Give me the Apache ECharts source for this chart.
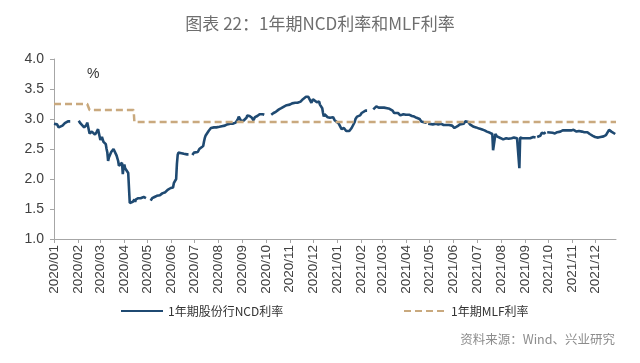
<!DOCTYPE html>
<html><head><meta charset="utf-8">
<script src="https://cdn.jsdelivr.net/npm/echarts@6/dist/echarts.min.js"></script>
<style>html,body{margin:0;padding:0;background:#fff}#c{width:640px;height:363px}</style>
</head><body><div id="c"></div>
<script>
const title = '图表 22：1年期NCD利率和MLF利率';
const source = '资料来源：Wind、兴业研究';
const seriesNames = ['1年期股份行NCD利率', '1年期MLF利率'];
const yTicks = [1.0, 1.5, 2.0, 2.5, 3.0, 3.5, 4.0];
const axisStart = '2020-01-02';
const axisEnd = '2021-12-29';

// NCD: dates and values (null = break in the line, holidays)
const ncdDates = [
'2020-01-02','2020-01-03','2020-01-06','2020-01-07','2020-01-08','2020-01-09','2020-01-10','2020-01-13','2020-01-14','2020-01-15','2020-01-16','2020-01-17','2020-01-20','2020-01-21','2020-01-22','2020-01-23','2020-01-24',
'2020-02-03','2020-02-04','2020-02-05','2020-02-06','2020-02-07','2020-02-10','2020-02-11','2020-02-12','2020-02-13','2020-02-14','2020-02-17','2020-02-18','2020-02-19','2020-02-20','2020-02-21','2020-02-24','2020-02-25','2020-02-26','2020-02-27','2020-02-28',
'2020-03-02','2020-03-03','2020-03-04','2020-03-05','2020-03-06','2020-03-09','2020-03-10','2020-03-11','2020-03-12','2020-03-13','2020-03-16','2020-03-17','2020-03-18','2020-03-19','2020-03-20','2020-03-23','2020-03-24','2020-03-25','2020-03-26','2020-03-27','2020-03-30','2020-03-31',
'2020-04-01','2020-04-02','2020-04-03','2020-04-07','2020-04-08','2020-04-09','2020-04-10','2020-04-13','2020-04-14','2020-04-15','2020-04-16','2020-04-17','2020-04-20','2020-04-21','2020-04-22','2020-04-23','2020-04-24','2020-04-27','2020-04-28','2020-04-29','2020-04-30','2020-05-01',
'2020-05-06','2020-05-07','2020-05-08','2020-05-11','2020-05-12','2020-05-13','2020-05-14','2020-05-15','2020-05-18','2020-05-19','2020-05-20','2020-05-21','2020-05-22','2020-05-25','2020-05-26','2020-05-27','2020-05-28','2020-05-29',
'2020-06-01','2020-06-02','2020-06-03','2020-06-04','2020-06-05','2020-06-08','2020-06-09','2020-06-10','2020-06-11','2020-06-12','2020-06-15','2020-06-16','2020-06-17','2020-06-18','2020-06-19','2020-06-22','2020-06-23','2020-06-24','2020-06-25',
'2020-06-29','2020-06-30','2020-07-01','2020-07-02','2020-07-03','2020-07-06','2020-07-07','2020-07-08','2020-07-09','2020-07-10','2020-07-13','2020-07-14','2020-07-15','2020-07-16','2020-07-17','2020-07-20','2020-07-21','2020-07-22','2020-07-23','2020-07-24','2020-07-27','2020-07-28','2020-07-29','2020-07-30','2020-07-31',
'2020-08-03','2020-08-04','2020-08-05','2020-08-06','2020-08-07','2020-08-10','2020-08-11','2020-08-12','2020-08-13','2020-08-14','2020-08-17','2020-08-18','2020-08-19','2020-08-20','2020-08-21','2020-08-24','2020-08-25','2020-08-26','2020-08-27','2020-08-28','2020-08-31',
'2020-09-01','2020-09-02','2020-09-03','2020-09-04','2020-09-07','2020-09-08','2020-09-09','2020-09-10','2020-09-11','2020-09-14','2020-09-15','2020-09-16','2020-09-17','2020-09-18','2020-09-21','2020-09-22','2020-09-23','2020-09-24','2020-09-25','2020-09-28','2020-09-29','2020-09-30','2020-10-01',
'2020-10-09','2020-10-12','2020-10-13','2020-10-14','2020-10-15','2020-10-16','2020-10-19','2020-10-20','2020-10-21','2020-10-22','2020-10-23','2020-10-26','2020-10-27','2020-10-28','2020-10-29','2020-10-30',
'2020-11-02','2020-11-03','2020-11-04','2020-11-05','2020-11-06','2020-11-09','2020-11-10','2020-11-11','2020-11-12','2020-11-13','2020-11-16','2020-11-17','2020-11-18','2020-11-19','2020-11-20','2020-11-23','2020-11-24','2020-11-25','2020-11-26','2020-11-27','2020-11-30',
'2020-12-01','2020-12-02','2020-12-03','2020-12-04','2020-12-07','2020-12-08','2020-12-09','2020-12-10','2020-12-11','2020-12-14','2020-12-15','2020-12-16','2020-12-17','2020-12-18','2020-12-21','2020-12-22','2020-12-23','2020-12-24','2020-12-25','2020-12-28','2020-12-29','2020-12-30','2020-12-31',
'2021-01-04','2021-01-05','2021-01-06','2021-01-07','2021-01-08','2021-01-11','2021-01-12','2021-01-13','2021-01-14','2021-01-15','2021-01-18','2021-01-19','2021-01-20','2021-01-21','2021-01-22','2021-01-25','2021-01-26','2021-01-27','2021-01-28','2021-01-29',
'2021-02-01','2021-02-02','2021-02-03','2021-02-04','2021-02-05','2021-02-08','2021-02-09','2021-02-10','2021-02-11',
'2021-02-18','2021-02-19','2021-02-22','2021-02-23','2021-02-24','2021-02-25','2021-02-26','2021-03-01','2021-03-02','2021-03-03','2021-03-04','2021-03-05','2021-03-08','2021-03-09','2021-03-10','2021-03-11','2021-03-12','2021-03-15','2021-03-16','2021-03-17','2021-03-18','2021-03-19','2021-03-22','2021-03-23','2021-03-24','2021-03-25','2021-03-26','2021-03-29','2021-03-30','2021-03-31',
'2021-04-01','2021-04-02','2021-04-06','2021-04-07','2021-04-08','2021-04-09','2021-04-12','2021-04-13','2021-04-14','2021-04-15','2021-04-16','2021-04-19','2021-04-20','2021-04-21','2021-04-22','2021-04-23','2021-04-26','2021-04-27','2021-04-28','2021-04-29','2021-04-30',
'2021-05-06','2021-05-07','2021-05-10','2021-05-11','2021-05-12','2021-05-13','2021-05-14','2021-05-17','2021-05-18','2021-05-19','2021-05-20','2021-05-21','2021-05-24','2021-05-25','2021-05-26','2021-05-27','2021-05-28','2021-05-31',
'2021-06-01','2021-06-02','2021-06-03','2021-06-04','2021-06-07','2021-06-08','2021-06-09','2021-06-10','2021-06-11','2021-06-15','2021-06-16','2021-06-17','2021-06-18','2021-06-21','2021-06-22','2021-06-23','2021-06-24','2021-06-25','2021-06-28','2021-06-29','2021-06-30',
'2021-07-01','2021-07-02','2021-07-05','2021-07-06','2021-07-07','2021-07-08','2021-07-09','2021-07-12','2021-07-13','2021-07-14','2021-07-15','2021-07-16','2021-07-19','2021-07-20','2021-07-21','2021-07-22','2021-07-23','2021-07-26','2021-07-27','2021-07-28','2021-07-29','2021-07-30',
'2021-08-02','2021-08-03','2021-08-04','2021-08-05','2021-08-06','2021-08-09','2021-08-10','2021-08-11','2021-08-12','2021-08-13','2021-08-16','2021-08-17','2021-08-18','2021-08-19','2021-08-20','2021-08-23','2021-08-24','2021-08-25','2021-08-26','2021-08-27','2021-08-30','2021-08-31',
'2021-09-01','2021-09-02','2021-09-03','2021-09-06','2021-09-07','2021-09-08','2021-09-09','2021-09-10','2021-09-13','2021-09-14','2021-09-15','2021-09-16','2021-09-17','2021-09-18',
'2021-09-22','2021-09-23','2021-09-24','2021-09-27','2021-09-28','2021-09-29','2021-09-30','2021-10-01',
'2021-10-08','2021-10-11','2021-10-12','2021-10-13','2021-10-14','2021-10-15','2021-10-18','2021-10-19','2021-10-20','2021-10-21','2021-10-22','2021-10-25','2021-10-26','2021-10-27','2021-10-28','2021-10-29',
'2021-11-01','2021-11-02','2021-11-03','2021-11-04','2021-11-05','2021-11-08','2021-11-09','2021-11-10','2021-11-11','2021-11-12','2021-11-15','2021-11-16','2021-11-17','2021-11-18','2021-11-19','2021-11-22','2021-11-23','2021-11-24','2021-11-25','2021-11-26','2021-11-29','2021-11-30',
'2021-12-01','2021-12-02','2021-12-03','2021-12-06','2021-12-07','2021-12-08','2021-12-09','2021-12-10','2021-12-13','2021-12-14','2021-12-15','2021-12-16','2021-12-17','2021-12-20','2021-12-21','2021-12-22','2021-12-23','2021-12-24','2021-12-28','2021-12-29'
];
const ncdValues = [
2.92,2.90,2.91,2.88,2.86,2.87,2.88,2.89,2.90,2.90,2.93,2.95,2.96,2.97,2.98,2.96,null,
2.97,2.95,2.93,2.92,2.90,2.86,2.84,2.83,2.90,2.94,2.76,2.74,2.78,2.79,2.76,2.74,2.75,2.78,2.81,2.83,
2.65,2.63,2.70,2.68,2.62,2.58,2.50,2.44,2.30,2.36,2.45,2.44,2.47,2.50,2.49,2.39,2.41,2.30,2.22,2.25,2.27,2.08,
2.20,2.24,2.18,2.10,2.07,1.60,1.58,1.62,1.64,1.66,1.62,1.66,1.68,1.70,1.66,1.68,1.71,1.70,1.67,1.69,1.68,null,
1.64,1.66,1.68,1.70,1.69,1.71,1.72,1.71,1.73,1.74,1.73,1.76,1.74,1.78,1.80,1.79,1.82,1.84,
1.85,1.87,1.88,1.86,1.93,2.00,2.25,2.40,2.44,2.46,2.43,2.45,2.43,2.42,2.44,2.41,2.40,2.41,null,
2.40,2.42,2.44,2.43,2.46,2.45,2.47,2.50,2.48,2.51,2.55,2.62,2.68,2.72,2.75,2.80,2.82,2.83,2.85,2.84,2.86,2.85,2.87,2.86,2.88,
2.87,2.88,2.89,2.88,2.90,2.89,2.91,2.90,2.91,2.92,2.92,2.91,2.93,2.92,2.93,2.94,2.93,2.94,3.00,3.04,2.97,
2.95,2.96,2.97,2.98,3.02,3.06,3.08,3.07,3.05,3.02,3.00,2.98,3.00,3.03,3.05,3.04,3.06,3.08,3.07,3.08,3.06,3.07,null,
3.07,3.10,3.12,3.13,3.12,3.15,3.16,3.17,3.19,3.18,3.20,3.21,3.20,3.22,3.23,3.25,
3.24,3.25,3.24,3.26,3.25,3.27,3.26,3.28,3.27,3.28,3.29,3.30,3.32,3.33,3.35,3.37,3.38,3.38,3.37,3.36,3.27,
3.30,3.33,3.32,3.30,3.28,3.30,3.31,3.29,3.24,3.18,3.10,3.04,3.08,3.06,3.03,3.05,3.04,3.02,3.04,3.03,3.01,2.98,2.96,
2.93,2.90,2.88,2.86,2.83,2.85,2.84,2.82,2.80,2.79,2.80,2.81,2.83,2.85,2.87,2.95,3.00,3.02,3.04,3.07,
3.06,3.08,3.10,3.11,3.12,3.14,3.13,3.14,null,
3.16,3.18,3.21,3.20,3.21,3.19,3.20,3.19,3.20,3.18,3.19,3.19,3.18,3.17,3.18,3.17,3.15,3.14,3.12,3.10,3.08,3.09,3.10,3.09,3.07,3.06,3.07,3.08,3.07,
3.08,3.07,3.06,3.07,3.06,3.06,3.05,3.04,3.04,3.03,3.02,3.01,3.00,2.98,2.96,2.94,2.95,2.94,2.93,2.94,null,
2.92,2.91,2.93,2.92,2.93,2.92,2.91,2.92,2.92,2.91,2.91,2.90,2.91,2.90,2.90,2.89,2.90,2.89,
2.89,2.88,2.87,2.85,2.86,2.88,2.90,2.90,2.91,2.93,2.92,2.94,2.96,2.98,2.95,2.92,2.91,2.90,2.88,2.87,2.86,
2.86,2.86,2.85,2.84,2.85,2.85,2.83,2.82,2.81,2.80,2.80,2.79,2.78,2.77,2.76,2.76,2.75,2.48,2.75,2.73,2.71,2.70,
2.69,2.68,2.67,2.66,2.66,2.67,2.68,2.67,2.66,2.67,2.67,2.68,2.67,2.68,2.69,2.69,2.68,2.69,2.69,2.18,2.69,2.68,
2.68,2.69,2.68,2.67,2.68,2.69,2.69,2.68,2.69,2.70,2.69,2.70,2.69,null,
2.70,2.72,2.75,2.77,2.76,2.78,2.78,null,
2.78,2.77,2.76,2.77,2.76,2.78,2.78,2.79,2.80,2.79,2.81,2.82,2.81,2.82,2.80,2.81,
2.82,2.81,2.82,2.83,2.82,2.80,2.79,2.78,2.79,2.80,2.80,2.79,2.78,2.79,2.78,2.77,2.78,2.76,2.76,2.75,2.74,2.72,
2.71,2.72,2.70,2.68,2.69,2.70,2.71,2.70,2.72,2.71,2.73,2.72,2.73,2.75,2.82,2.80,2.79,2.79,2.77,2.75
];

// MLF: step dates and values
const mlfDates = ['2020-01-02','2020-02-14','2020-02-17','2020-04-14','2020-04-15','2021-12-29'];
const mlfValues = [3.25, 3.25, 3.15, 3.15, 2.95, 2.95];

// calendar category axis (one category per day)
const cats = [];
(function(){
  const d = new Date(axisStart + 'T00:00:00Z');
  const e = new Date(axisEnd + 'T00:00:00Z');
  while (d <= e) { cats.push(d.toISOString().slice(0,10)); d.setUTCDate(d.getUTCDate()+1); }
})();
const isMonthTick = (i, v) => String(v).slice(8) === '02';

const ncdData = ncdDates.map((d,i) => [d, ncdValues[i] == null ? '-' : ncdValues[i]]);
const mlfData = mlfDates.map((d,i) => [d, mlfValues[i]]);

const legendText = {fontFamily: 'Noto Sans CJK SC', fontSize: 12, color: '#333'};
const chart = echarts.init(document.getElementById('c'), null, {renderer:'canvas'});
chart.setOption({
  animation: false,
  backgroundColor: '#fff',
  title: {
    text: title, left: 'center', top: 10,
    textStyle: {fontFamily: 'Noto Sans CJK SC', fontSize: 17, fontWeight: 'normal', color: '#6e6e6e'}
  },
  grid: {left: 54, right: 24, top: 59, bottom: 124, containLabel: false},
  legend: [
    {data: [seriesNames[0]], left: 120, top: 305, padding: 0, itemWidth: 42, itemHeight: 12, itemGap: 4,
     itemStyle: {opacity: 0}, textStyle: legendText},
    {data: [seriesNames[1]], left: 403, top: 305, padding: 0, itemWidth: 42, itemHeight: 12, itemGap: 4,
     itemStyle: {opacity: 0}, textStyle: legendText}
  ],
  graphic: [
    {type: 'text', left: 87, top: 67, style: {text: '%', fontFamily: 'Liberation Sans', fontSize: 14, fill: '#333'}},
    {type: 'text', right: 25, top: 333, style: {text: source, fontFamily: 'Noto Sans CJK SC', fontSize: 12.5, fill: '#8c8c8c'}}
  ],
  xAxis: {
    type: 'category', data: cats, boundaryGap: false,
    axisLine: {lineStyle: {color: '#a6a6a6', width: 1}},
    axisTick: {interval: isMonthTick, length: 4, lineStyle: {color: '#a6a6a6'}},
    axisLabel: {
      interval: isMonthTick, rotate: 90, margin: 6,
      formatter: v => v.slice(0,4) + '/' + v.slice(5,7),
      fontFamily: 'Liberation Sans', fontSize: 13.5, color: '#404040'
    },
    splitLine: {show: false}
  },
  yAxis: {
    type: 'value', min: 1, max: 4, interval: 0.5,
    axisLine: {show: true, lineStyle: {color: '#a6a6a6'}},
    axisTick: {show: true, length: 4, lineStyle: {color: '#a6a6a6'}},
    axisLabel: {formatter: v => yTicks.includes(v) ? v.toFixed(1) : '', fontFamily: 'Liberation Sans', fontSize: 14, color: '#404040', margin: 10},
    splitLine: {show: false}
  },
  series: [
    {name: seriesNames[0], type: 'line', data: ncdData, showSymbol: false, symbol: 'none',
     connectNulls: false, lineStyle: {color: '#1f4a72', width: 2.6}, itemStyle: {color: '#1f4a72'}},
    {name: seriesNames[1], type: 'line', data: mlfData, showSymbol: false, symbol: 'none',
     lineStyle: {color: '#c9a97e', width: 2.5, type: [7, 4]}, itemStyle: {color: '#c9a97e'}}
  ]
});
</script></body></html>
